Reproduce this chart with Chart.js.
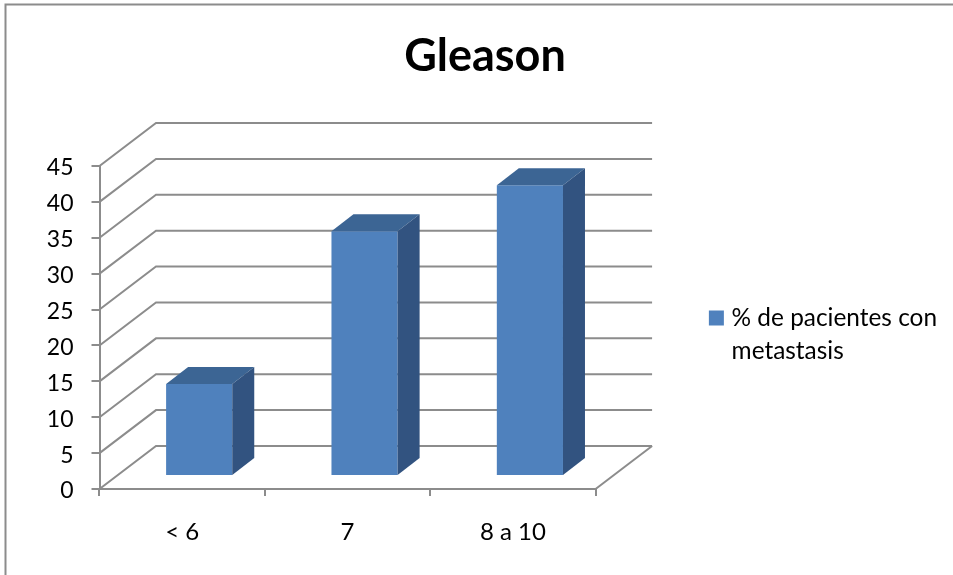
<!DOCTYPE html>
<html lang="es">
<head>
<meta charset="utf-8">
<title>Gleason</title>
<style>
  html, body { margin: 0; padding: 0; background: #fff; }
  #box { position: absolute; left: 0; top: 0; width: 953px; height: 575px; }
</style>
<script src="https://cdn.jsdelivr.net/npm/chart.js@4"></script>
</head>
<body>
<div id="box"><canvas id="chart"></canvas></div>
<script>
const categories = ['< 6', '7', '8 a 10'];
const seriesLabel = ['% de pacientes con', 'metastasis'];
const seriesValues = [12.8, 34.1, 40.5];
const chartTitle = 'Gleason';

const FONT = 'Lato, Carlito, Calibri, sans-serif';
const GRID = '#8c8c8c';
const FRONT = '#4f81bd';
const TOP = '#3c6594';
const SIDE = '#325380';

// Oblique projection: depth of the whole floor, and of the bars standing on it.
const WALL = { dx: 56.5, dy: -43 };
const BAR_SHIFT = { dx: 17, dy: -13 };
const BAR_DEPTH = { dx: 22, dy: -17 };

function poly(ctx, pts, fill) {
  ctx.beginPath();
  pts.forEach((p, i) => i ? ctx.lineTo(p[0], p[1]) : ctx.moveTo(p[0], p[1]));
  ctx.closePath();
  ctx.fillStyle = fill;
  ctx.fill();
}

const perspective = {
  id: 'perspective',
  beforeDraw(chart) {
    // Outer chart frame: only its top and left edges fall inside the page.
    const c = chart.ctx;
    c.save();
    c.strokeStyle = GRID;
    c.lineWidth = 2;
    c.beginPath();
    c.moveTo(5.5, chart.height);
    c.lineTo(5.5, 4.5);
    c.lineTo(chart.width, 4.5);
    c.stroke();
    c.restore();
  },
  beforeDatasetsDraw(chart) {
    // Side wall diagonals, back wall lines and the right edge of the floor.
    const c = chart.ctx;
    const { left, right, bottom } = chart.chartArea;
    const y = chart.scales.y;
    c.save();
    c.strokeStyle = GRID;
    c.lineWidth = 2;
    y.ticks.forEach(t => {
      const py = y.getPixelForValue(t.value);
      c.beginPath();
      c.moveTo(left, py);
      c.lineTo(left + WALL.dx, py + WALL.dy);
      c.lineTo(right + WALL.dx, py + WALL.dy);
      c.stroke();
    });
    c.beginPath();
    c.moveTo(right, bottom);
    c.lineTo(right + WALL.dx, bottom + WALL.dy);
    c.stroke();
    c.restore();
  },
  beforeDatasetDraw(chart) {
    chart.ctx.save();
    chart.ctx.translate(BAR_SHIFT.dx, BAR_SHIFT.dy);
  },
  afterDatasetDraw(chart, args) {
    // Still shifted onto the floor: add the top and side faces of each bar.
    const c = chart.ctx;
    args.meta.data.forEach(bar => {
      const l = bar.x - bar.width / 2, r = bar.x + bar.width / 2;
      const t = bar.y, b = bar.base;
      const { dx, dy } = BAR_DEPTH;
      poly(c, [[l, t], [r, t], [r + dx, t + dy], [l + dx, t + dy]], TOP);
      poly(c, [[r, t], [r + dx, t + dy], [r + dx, b + dy], [r, b]], SIDE);
    });
    c.restore();
  }
};

new Chart(document.getElementById('chart'), {
  type: 'bar',
  data: {
    labels: categories,
    datasets: [{
      label: seriesLabel,
      data: seriesValues,
      backgroundColor: FRONT,
      categoryPercentage: 1,
      barPercentage: 0.4
    }]
  },
  plugins: [perspective],
  options: {
    responsive: true,
    maintainAspectRatio: false,
    animation: false,
    layout: { padding: { left: 23, right: 6, top: 0, bottom: 0 } },
    plugins: {
      tooltip: { enabled: false },
      title: {
        display: true,
        text: chartTitle,
        color: '#000',
        font: { family: FONT, size: 45, weight: 'bold', lineHeight: 1.2 },
        padding: { top: 29, bottom: 83 }
      },
      legend: {
        display: true,
        position: 'right',
        align: 'start',
        maxWidth: 420,
        // An empty legend title only pushes the entry down beside the plot.
        title: { display: true, text: '', padding: { top: 176, bottom: 0 }, font: { size: 12, lineHeight: 1 } },
        labels: {
          color: '#000',
          font: { family: FONT, size: 24.4, lineHeight: 1.34 },
          boxWidth: 6,
          boxHeight: 6,
          padding: 117.8,
          generateLabels(chart) {
            return Chart.defaults.plugins.legend.labels.generateLabels(chart)
              .map(item => ({ ...item, lineWidth: 9, strokeStyle: FRONT, lineJoin: 'miter' }));
          }
        }
      }
    },
    scales: {
      x: {
        afterFit(s) { s.height = 86; },
        grid: { offset: true, drawOnChartArea: false, drawTicks: true, tickLength: 7, color: GRID, lineWidth: 2 },
        border: { color: GRID, width: 2 },
        ticks: { color: '#000', padding: 22, maxRotation: 0, font: { family: FONT, size: 24 } }
      },
      y: {
        min: 0,
        max: 45,
        afterFit(s) { s.width = 76.5; },
        grid: { drawOnChartArea: false, drawTicks: true, tickLength: 8, color: GRID, lineWidth: 2 },
        border: { color: GRID, width: 2 },
        ticks: { color: '#000', stepSize: 5, padding: 18, labelOffset: 2, font: { family: FONT, size: 23 } }
      }
    }
  }
});
</script>
</body>
</html>
